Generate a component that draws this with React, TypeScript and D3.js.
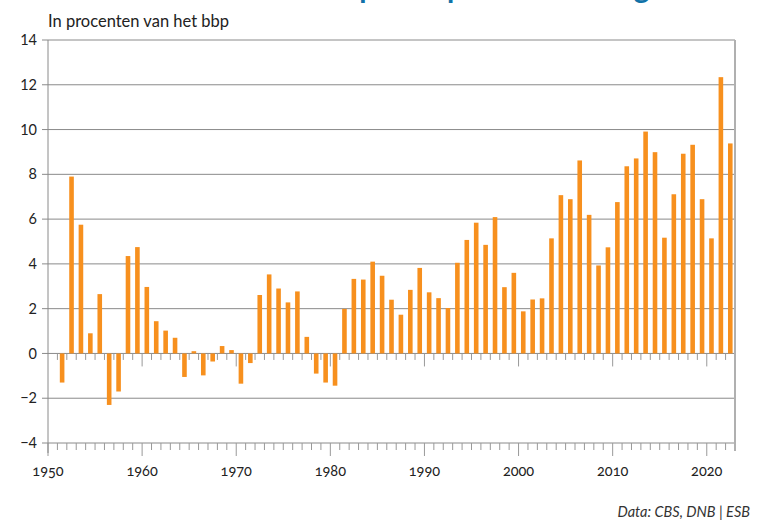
import React from "react";
import * as d3 from "d3";

const years: number[] = d3.range(1951, 2023);
const values: number[] = [
  -1.3, 7.9, 5.75, 0.9, 2.65, -2.3, -1.7, 4.35, 4.75, 2.97,
  1.44, 1.02, 0.7, -1.05, 0.1, -0.98, -0.36, 0.33, 0.15, -1.35,
  -0.43, 2.61, 3.53, 2.9, 2.28, 2.77, 0.74, -0.9, -1.3, -1.44,
  1.99, 3.33, 3.3, 4.1, 3.47, 2.4, 1.73, 2.84, 3.82, 2.73,
  2.47, 2.03, 4.05, 5.07, 5.84, 4.85, 6.09, 2.96, 3.6, 1.88,
  2.41, 2.46, 5.14, 7.07, 6.89, 8.62, 6.19, 3.93, 4.74, 6.76,
  8.36, 8.71, 9.91, 8.99, 5.17, 7.11, 8.92, 9.32, 6.89, 5.14,
  12.34, 9.38,
];
const yTicks: number[] = [-4, -2, 0, 2, 4, 6, 8, 10, 12, 14];
const xTicks: number[] = [1950, 1960, 1970, 1980, 1990, 2000, 2010, 2020];
const title = "Overschot op de lopende rekening";
const subtitle = "In procenten van het bbp";
const source = "Data: CBS, DNB | ESB";

const W = 762;
const H = 525;
const FONT = "Lato, 'Open Sans', sans-serif";

export default function App() {
  const x = d3.scaleLinear().domain([1950, 2023]).range([48, 735]);
  const y = d3.scaleLinear().domain([-4, 14]).range([443, 40]);
  const allYears = d3.range(1950, 2024);
  const barW = 4.6;
  const fmt = (v: number) => (v < 0 ? "\u2212" + Math.abs(v) : String(v));

  return (
    <svg
      width={W}
      height={H}
      style={{ position: "absolute", left: 0, top: 0, background: "#fff" }}
      fontFamily={FONT}
    >
      {/* title, cut off at the top edge as in the reference */}
      <text x={198} y={-2} fontSize={29.5} fontWeight={700} fill="#1172a8">
        {title}
      </text>
      <text x={48} y={27} fontSize={16.5} fill="#222">
        {subtitle}
      </text>

      {/* gridlines */}
      {yTicks.map((t) => (
        <g key={t}>
          <line x1={42} x2={735} y1={y(t)} y2={y(t)} stroke="#8a8a8a" strokeWidth={1} />
          <text
            x={37}
            y={y(t)}
            dy="0.35em"
            textAnchor="end"
            fontSize={14.5}
            fill="#222"
          >
            {fmt(t)}
          </text>
        </g>
      ))}

      {/* year ticks on zero line and bottom axis */}
      {allYears.map((yr) => {
        const major = yr % 10 === 0;
        return (
          <g key={yr}>
            {yr > 1950 && yr < 2023 && (
              <line
                x1={x(yr)}
                x2={x(yr)}
                y1={y(0)}
                y2={y(0) + (major ? 13 : 6.5)}
                stroke="#999"
                strokeWidth={1}
              />
            )}
            <line
              x1={x(yr)}
              x2={x(yr)}
              y1={y(-4)}
              y2={y(-4) + (major ? 13 : 7)}
              stroke="#999"
              strokeWidth={1}
            />
          </g>
        );
      })}

      {/* axes frame */}
      <line x1={48} x2={48} y1={y(14)} y2={y(-4) + 10} stroke="#8a8a8a" strokeWidth={1} />
      <line x1={735} x2={735} y1={y(14)} y2={y(-4) + 8} stroke="#b0b0b0" strokeWidth={2} />

      {/* bars */}
      {years.map((yr, i) => {
        const v = values[i];
        const cx = x(yr + 0.5);
        return (
          <rect
            key={yr}
            x={cx - barW / 2}
            width={barW}
            y={Math.min(y(v), y(0))}
            height={Math.abs(y(v) - y(0))}
            fill="#f7901e"
          />
        );
      })}

      {/* x labels */}
      {xTicks.map((t) => (
        <text
          key={t}
          x={x(t)}
          y={476}
          textAnchor="middle"
          fontSize={14.5}
          fill="#222"
          style={{ fontVariantNumeric: "oldstyle-nums" }}
        >
          {t}
        </text>
      ))}

      <text
        x={750}
        y={517}
        textAnchor="end"
        fontSize={14.5}
        fontStyle="italic"
        fill="#333"
      >
        {source}
      </text>
    </svg>
  );
}
